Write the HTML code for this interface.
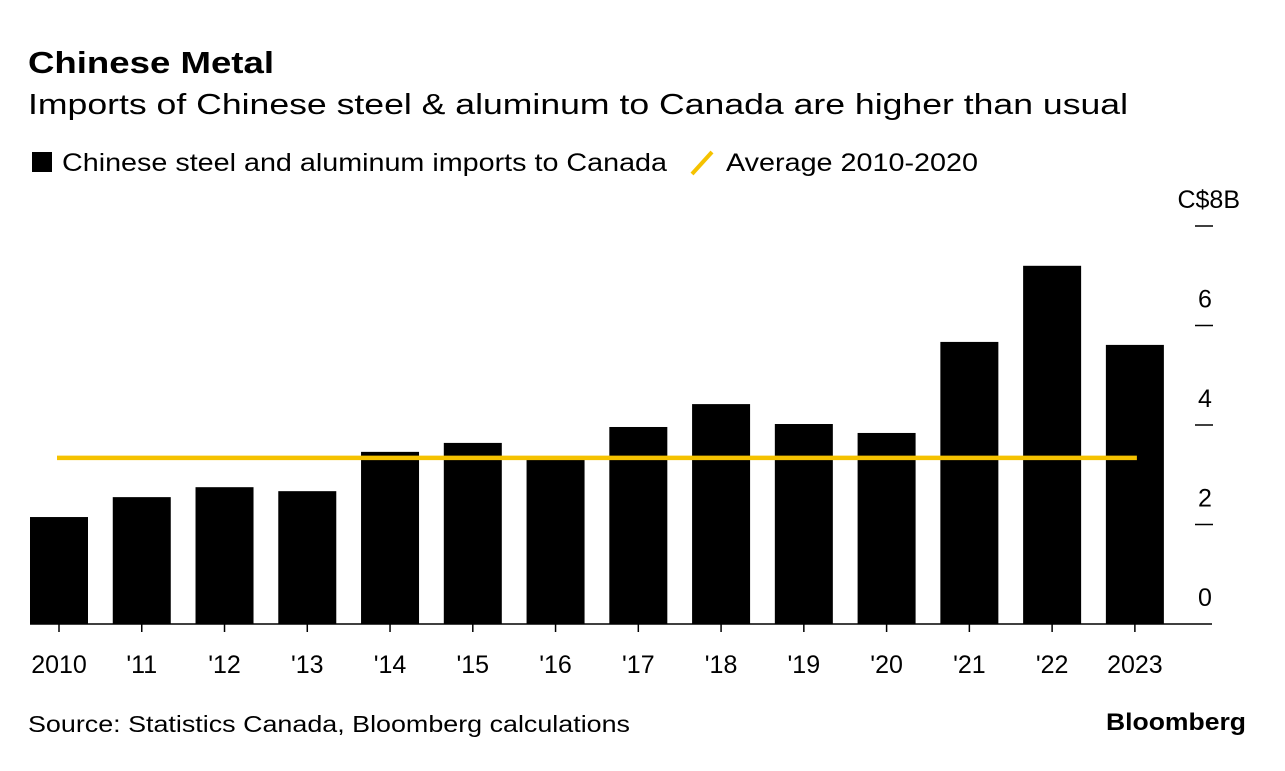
<!DOCTYPE html>
<html><head><meta charset="utf-8"><style>
body{margin:0;background:#fff;font-family:"Liberation Sans",sans-serif;}
svg text{font-family:"Liberation Sans",sans-serif;}
</style></head><body>
<svg width="1285" height="766" xmlns="http://www.w3.org/2000/svg">
<text x="28" y="73" font-size="31" font-weight="bold" fill="#000" textLength="246" lengthAdjust="spacingAndGlyphs">Chinese Metal</text>
<text x="28" y="114" font-size="29" fill="#000" textLength="1100" lengthAdjust="spacingAndGlyphs">Imports of Chinese steel &amp; aluminum to Canada are higher than usual</text>
<g>
<rect x="32" y="152" width="20" height="20" fill="#000"/>
<text x="62" y="171" font-size="25" textLength="605" lengthAdjust="spacingAndGlyphs">Chinese steel and aluminum imports to Canada</text>
<line x1="692" y1="174" x2="712" y2="152" stroke="#f5c200" stroke-width="4"/>
<text x="726" y="171" font-size="25" textLength="252" lengthAdjust="spacingAndGlyphs">Average 2010-2020</text>
</g>
<g id="plot"></g>
<text x="28" y="732" font-size="23" textLength="602" lengthAdjust="spacingAndGlyphs">Source: Statistics Canada, Bloomberg calculations</text>
<text x="1246" y="730" font-size="24" font-weight="bold" text-anchor="end" textLength="140" lengthAdjust="spacingAndGlyphs">Bloomberg</text>
</svg>
<script>
const categories=["2010","'11","'12","'13","'14","'15","'16","'17","'18","'19","'20","'21","'22","2023"];
const values=[2.15,2.55,2.75,2.67,3.46,3.64,3.32,3.96,4.42,4.02,3.84,5.67,7.2,5.61];
const average=[3.34];
const yTicks=[0,2,4,6,8];
const yTickLabels=["0","2","4","6","C$8B"];
const NS="http://www.w3.org/2000/svg";
const g=document.getElementById('plot');
const y=v=>624-v*49.75;
const x=i=>59+i*82.76;
const bw=58;
function mk(t,a){const e=document.createElementNS(NS,t);for(const k in a)e.setAttribute(k,a[k]);g.appendChild(e);return e;}
yTicks.forEach((t,i)=>{
 if(t>0){const l=mk('line',{x1:1195,x2:1213,y1:y(t),y2:y(t),stroke:'#000','stroke-width':1.5});
 
 }
 const tx=mk('text',{x:i===4?1240:1205,y:y(t)-18,'font-size':25,'text-anchor':i===4?'end':'middle'});
 tx.textContent=yTickLabels[i];
 
 
});
values.forEach((v,i)=>{
 const r=mk('rect',{x:x(i)-bw/2,y:y(v),width:bw,height:y(0)-y(v),fill:'#000'});
 
 
 const tk=mk('line',{x1:x(i),x2:x(i),y1:624,y2:632,stroke:'#000','stroke-width':1.5});
 
 
 const t=mk('text',{x:x(i),y:673,'font-size':25,'text-anchor':'middle'});
 t.textContent=categories[i];
 
 
});
const ax=mk('line',{x1:30,x2:1212,y1:624,y2:624,stroke:'#000','stroke-width':1.5});


const av=mk('line',{x1:x(0)-2,x2:x(values.length-1)+2,y1:y(average[0]),y2:y(average[0]),stroke:'#f5c200','stroke-width':4.5});


</script>
</body></html>
